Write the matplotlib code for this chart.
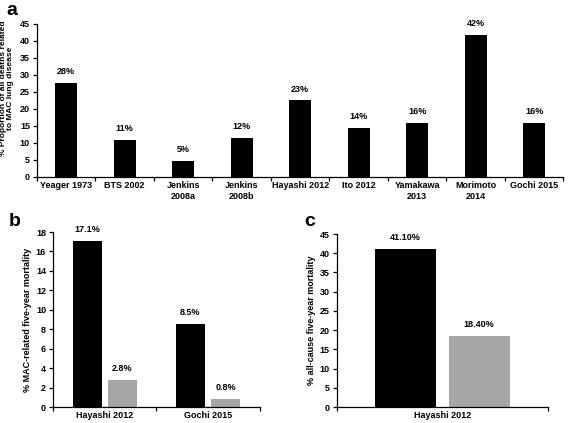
import numpy as np
import matplotlib
matplotlib.use('Agg')
from matplotlib import pyplot as plt

plt.rcParams['font.family'] = ['Liberation Sans', 'DejaVu Sans']
plt.rcParams['font.weight'] = 'bold'

# panel a
studies_a = ['Yeager 1973', 'BTS 2002', 'Jenkins\n2008a', 'Jenkins\n2008b',
             'Hayashi 2012', 'Ito 2012', 'Yamakawa\n2013', 'Morimoto\n2014',
             'Gochi 2015']
deaths_a = [27.7, 11.0, 4.8, 11.4, 22.5, 14.5, 15.8, 41.9, 15.9]
labels_a = ['28%', '11%', '5%', '12%', '23%', '14%', '16%', '42%', '16%']

# panel b
studies_b = ['Hayashi 2012', 'Gochi 2015']
mac_black_b = [17.1, 8.5]
mac_grey_b = [2.8, 0.8]
labels_black_b = ['17.1%', '8.5%']
labels_grey_b = ['2.8%', '0.8%']

# panel c
studies_c = ['Hayashi 2012']
all_black_c = [41.1]
all_grey_c = [18.4]
labels_black_c = ['41.10%']
labels_grey_c = ['18.40%']

GREY = '#a6a6a6'
FS = 6.5


def style_axes(ax, n, ymax, ystep):
    ax.spines['top'].set_visible(False)
    ax.spines['right'].set_visible(False)
    for s in ('left', 'bottom'):
        ax.spines[s].set_linewidth(0.9)
    ax.set_xlim(-0.5, n - 0.5)
    ax.set_ylim(0, ymax)
    ax.set_yticks(np.arange(0, ymax + 0.1, ystep))
    ax.set_xticks(np.arange(-0.5, n, 1.0), minor=True)
    ax.tick_params(axis='x', which='major', length=0, labelsize=FS, pad=3)
    ax.tick_params(axis='x', which='minor', length=3, width=0.9,
                   direction='out')
    ax.tick_params(axis='y', length=3, width=0.9, direction='out',
                   labelsize=FS, pad=2)


def put_labels(ax, xs, ys, texts):
    for x, y, t in zip(xs, ys, texts):
        ax.annotate(t, (x, y), xytext=(0, 5), textcoords='offset points',
                    ha='center', va='bottom', fontsize=FS, fontweight='bold')


fig = plt.figure(figsize=(5.68, 4.23), dpi=100)

ax_a = fig.add_axes([0.065, 0.5816, 0.927, 0.3617])
xa = np.arange(len(studies_a))
ax_a.bar(xa, deaths_a, width=0.38, color='black')
style_axes(ax_a, len(studies_a), 45, 5)
ax_a.set_xticks(xa)
ax_a.set_xticklabels(studies_a)
ax_a.set_ylabel('% Proportion of all deaths related\nto MAC lung disease',
                fontsize=6.0, fontweight='bold', linespacing=0.95)
ax_a.yaxis.set_label_coords(-0.044, 0.58)
put_labels(ax_a, xa, deaths_a, labels_a)

ax_b = fig.add_axes([0.0933, 0.0378, 0.364, 0.4137])
xb = np.arange(len(studies_b))
w = 0.28
ax_b.bar(xb - 0.17, mac_black_b, width=w, color='black')
ax_b.bar(xb + 0.17, mac_grey_b, width=w, color=GREY)
style_axes(ax_b, len(studies_b), 18, 2)
ax_b.set_xticks(xb)
ax_b.set_xticklabels(studies_b)
ax_b.set_ylabel('% MAC-related five-year mortality', fontsize=FS,
                fontweight='bold', labelpad=3)
put_labels(ax_b, xb - 0.17, mac_black_b, labels_black_b)
put_labels(ax_b, xb + 0.17, mac_grey_b, labels_grey_b)

ax_c = fig.add_axes([0.593, 0.0378, 0.3715, 0.409])
xc = np.arange(len(studies_c))
wc = 0.29
ax_c.bar(xc - 0.175, all_black_c, width=wc, color='black')
ax_c.bar(xc + 0.175, all_grey_c, width=wc, color=GREY)
style_axes(ax_c, len(studies_c), 45, 5)
ax_c.set_xticks(xc)
ax_c.set_xticklabels(studies_c)
ax_c.set_ylabel('% all-cause five-year mortality', fontsize=FS,
                fontweight='bold', labelpad=3)
put_labels(ax_c, xc - 0.175, all_black_c, labels_black_c)
put_labels(ax_c, xc + 0.175, all_grey_c, labels_grey_c)

fig.text(0.012, 0.965, 'a', fontsize=14, fontweight='bold')
fig.text(0.015, 0.465, 'b', fontsize=14, fontweight='bold')
fig.text(0.535, 0.465, 'c', fontsize=14, fontweight='bold')

plt.savefig('out.png', dpi=100)
plt.close()
